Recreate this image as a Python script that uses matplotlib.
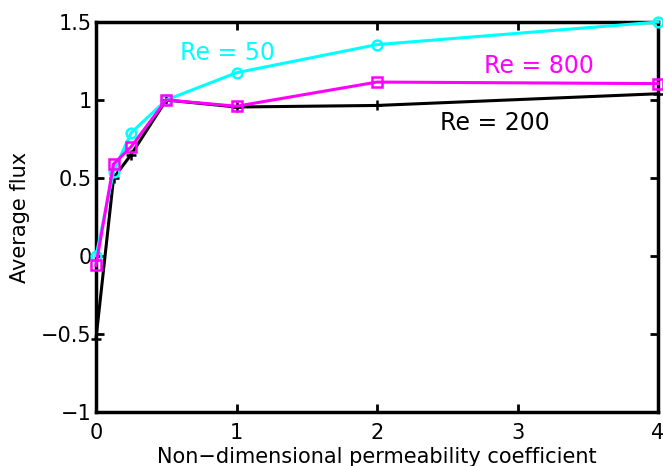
import matplotlib
matplotlib.use("Agg")
import matplotlib.pyplot as plt

x = [0, 0.125, 0.25, 0.5, 1, 2, 4]
re200 = [-0.53, 0.50, 0.65, 1.0, 0.955, 0.965, 1.04]
re50 = [0.0, 0.54, 0.79, 1.0, 1.175, 1.355, 1.5]
re800 = [-0.06, 0.59, 0.70, 1.0, 0.96, 1.115, 1.105]

xticks = [0, 1, 2, 3, 4]
yticks = [-1, -0.5, 0, 0.5, 1, 1.5]
yticklabels = ["\u22121", "\u22120.5", "0", "0.5", "1", "1.5"]

fig = plt.figure(figsize=(6.63, 4.66), dpi=100)
ax = fig.add_axes([0.1448, 0.1159, 0.8477, 0.8369])

ax.plot(x, re200, color="black", lw=2.2, marker="+", ms=7, mew=1.8, clip_on=False, zorder=3)
ax.plot(x, re50, color="cyan", lw=2.2, marker="o", ms=7, mfc="none", mew=1.8, clip_on=False, zorder=4)
ax.plot(x, re800, color="magenta", lw=2.2, marker="s", ms=7, mfc="none", mew=1.8, clip_on=False, zorder=5)

ax.set_xlim(0, 4)
ax.set_ylim(-1, 1.5)
ax.set_xticks(xticks)
ax.set_yticks(yticks)
ax.set_yticklabels(yticklabels)
ax.tick_params(direction="in", length=6, width=2, labelsize=15, top=True, right=True, pad=3)
ax.tick_params(axis="x", pad=8)
for s in ax.spines.values():
    s.set_linewidth(2.5)

ax.set_xlabel("Non\u2212dimensional permeability coefficient", fontsize=15, labelpad=3)
ax.set_ylabel("Average flux", fontsize=15, labelpad=8)

ax.text(0.6, 1.30, "Re = 50", color="cyan", fontsize=17, ha="left", va="center")
ax.text(2.76, 1.22, "Re = 800", color="magenta", fontsize=17, ha="left", va="center")
ax.text(2.45, 0.85, "Re = 200", color="black", fontsize=17, ha="left", va="center")

fig.savefig("out.png", dpi=100)
